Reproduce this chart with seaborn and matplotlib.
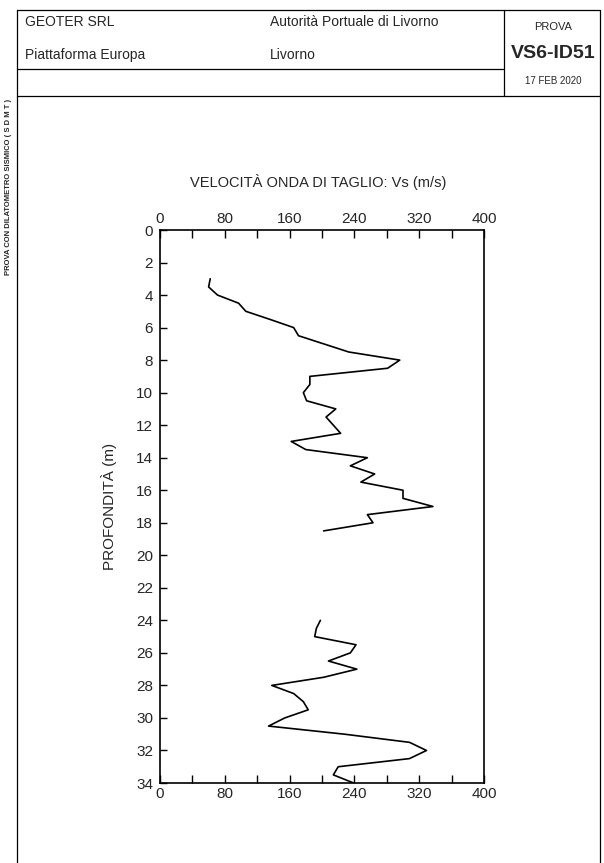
import numpy as np
import pandas as pd
import seaborn as sns
import matplotlib.pyplot as plt
from matplotlib.lines import Line2D
from matplotlib.ticker import MultipleLocator

# Vs profile (depth in m, velocity in m/s)
depth_top = [3.0, 3.5, 4.0, 4.5, 5.0, 5.5, 6.0, 6.5, 7.0, 7.5, 8.0, 8.5, 9.0, 9.5,
             10.0, 10.5, 11.0, 11.5, 12.0, 12.5, 13.0, 13.5, 14.0, 14.5, 15.0, 15.5,
             16.0, 16.5, 17.0, 17.5, 18.0, 18.5]
vs_top = [62, 60, 71, 97, 106, 136, 165, 171, 202, 233, 296, 281, 185, 185,
          177, 181, 217, 205, 214, 223, 162, 180, 256, 235, 265, 248,
          300, 300, 337, 256, 263, 202]

depth_bot = [24.0, 24.5, 25.0, 25.5, 26.0, 26.5, 27.0, 27.5, 28.0, 28.5, 29.0, 29.5,
             30.0, 30.5, 31.0, 31.5, 32.0, 32.5, 33.0, 33.5, 34.0]
vs_bot = [198, 193, 191, 242, 235, 208, 243, 202, 138, 165, 177, 183,
          154, 134, 228, 308, 329, 308, 220, 214, 239]

x_ticks = [0, 80, 160, 240, 320, 400]
y_ticks = list(range(0, 35, 2))

df = pd.DataFrame({
    'depth': depth_top + depth_bot,
    'vs': vs_top + vs_bot,
    'seg': ['a'] * len(depth_top) + ['b'] * len(depth_bot),
})

sns.set_theme(style="white")
plt.rcParams['font.family'] = ['Liberation Sans', 'DejaVu Sans']

W, H = 604, 863
fig = plt.figure(figsize=(W / 100, H / 100), dpi=100)

def fx(x):
    return x / W

def fy(y):
    return 1 - y / H

# page frame and header box
def hline(y, x0, x1):
    fig.add_artist(Line2D([fx(x0), fx(x1)], [fy(y), fy(y)], color='black', lw=0.9))

def vline(x, y0, y1):
    fig.add_artist(Line2D([fx(x), fx(x)], [fy(y0), fy(y1)], color='black', lw=0.9))

hline(10, 17, 600)
hline(69, 17, 504)
hline(96, 17, 600)
vline(17, 10, 863)
vline(600, 10, 863)
vline(504, 10, 96)

fig.text(fx(25), fy(22), "GEOTER SRL", fontsize=10, va='center', ha='left')
fig.text(fx(25), fy(55), "Piattaforma Europa", fontsize=10, va='center', ha='left')
fig.text(fx(270), fy(22), "Autorità Portuale di Livorno", fontsize=10, va='center', ha='left')
fig.text(fx(270), fy(55), "Livorno", fontsize=10, va='center', ha='left')
fig.text(fx(553), fy(27), "PROVA", fontsize=8, va='center', ha='center')
fig.text(fx(553), fy(53), "VS6-ID51", fontsize=14, fontweight='bold', va='center', ha='center')
fig.text(fx(553), fy(81), "17 FEB 2020", fontsize=7, va='center', ha='center')
fig.text(fx(9), fy(187), "PROVA CON DILATOMETRO SISMICO ( S D M T )", fontsize=5.5,
         fontweight='bold', rotation=90, va='center', ha='center')

# chart
ax = fig.add_axes([fx(160), fy(783), (484 - 160) / W, (783 - 230) / H])
sns.lineplot(data=df, x='vs', y='depth', units='seg', estimator=None, sort=False,
             color='black', lw=1.2, ax=ax)

ax.set_xlim(0, 400)
ax.set_ylim(34, 0)
ax.set_xticks(x_ticks)
ax.xaxis.set_minor_locator(MultipleLocator(40))
ax.set_yticks(y_ticks)
ax.tick_params(axis='x', which='both', direction='in', length=6, width=1,
               top=True, bottom=True, labeltop=True, labelbottom=True,
               labelsize=11, pad=3, color='black')
ax.tick_params(axis='y', which='both', direction='in', length=5, width=1,
               left=True, right=False, labelsize=11, pad=5, color='black')
for s in ax.spines.values():
    s.set_color('black')
    s.set_linewidth(1.2)

ax.set_xlabel("")
ax.set_ylabel("PROFONDITÀ (m)", fontsize=11, labelpad=14)
fig.text(fx(318), fy(182), "VELOCITÀ ONDA DI TAGLIO: Vs (m/s)", fontsize=10.5,
         va='center', ha='center')

fig.savefig("out.png", dpi=100)
